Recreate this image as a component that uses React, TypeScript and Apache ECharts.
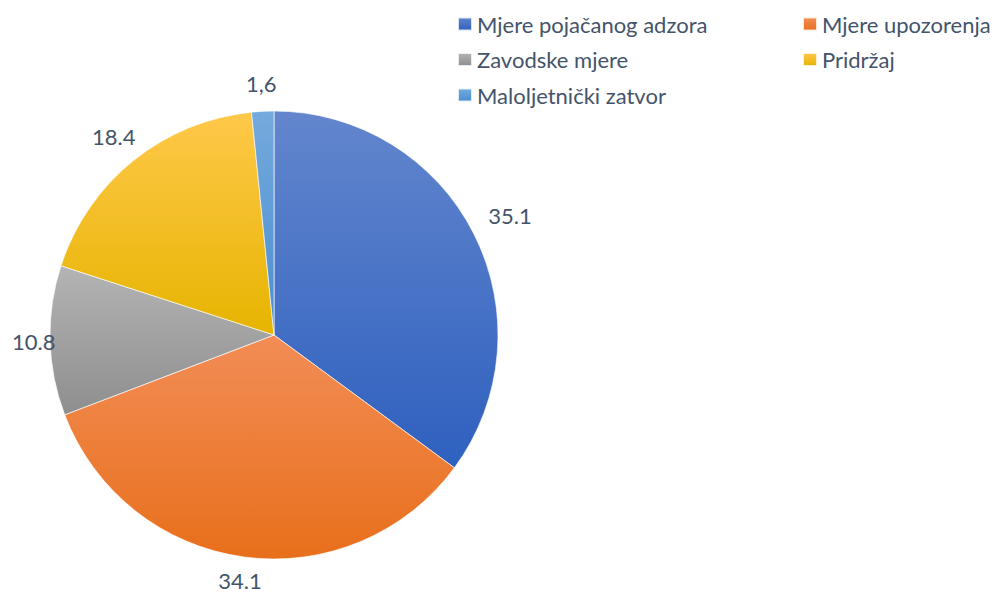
import React, { useEffect, useRef } from "react";
import * as echarts from "echarts";

const categories = [
  "Mjere pojačanog adzora",
  "Mjere upozorenja",
  "Zavodske mjere",
  "Pridržaj",
  "Maloljetnički zatvor",
];
const values = [35.1, 34.1, 10.8, 18.4, 1.6];
const labelTexts = ["35.1", "34.1", "10.8", "18.4", "1,6"];
const legendCol1 = ["Mjere pojačanog adzora", "Zavodske mjere", "Maloljetnički zatvor"];
const legendCol2 = ["Mjere upozorenja", "Pridržaj"];
const gradients = [
  ["#6386CD", "#2E60BF"],
  ["#F28D56", "#E86F1B"],
  ["#B4B4B4", "#8E8E8E"],
  ["#FFC84A", "#E6B400"],
  ["#74AADD", "#4A8ED0"],
];

const FONT = "Lato, 'Open Sans', sans-serif";
const TEXT_COLOR = "#44546A";
const CX = 274;
const CY = 335;
const R = 224;
const GAP = 16;
const W = 997;
const H = 594;

export default function App() {
  const ref = useRef<HTMLDivElement>(null);
  useEffect(() => {
    if (!ref.current) return;
    const chart = echarts.init(ref.current, null, { renderer: "svg" });
    const total = values.reduce((a, b) => a + b, 0);
    const cum: number[] = [];
    let acc = 0;
    values.forEach((v) => {
      cum.push(acc);
      acc += v;
    });
    const data = categories.map((name, i) => ({
      name,
      value: values[i],
      itemStyle: {
        color: new echarts.graphic.LinearGradient(0, 0, 0, 1, [
          { offset: 0, color: gradients[i][0] },
          { offset: 1, color: gradients[i][1] },
        ]),
      },
    }));
    const legendCommon = {
      orient: "vertical" as const,
      top: 12,
      padding: 0,
      itemWidth: 14,
      itemHeight: 13,
      itemGap: 11.5,
      icon: "rect",
      selectedMode: false,
      textStyle: {
        fontFamily: FONT,
        fontSize: 22,
        color: TEXT_COLOR,
        lineHeight: 24,
      },
    };
    chart.setOption({
      animation: false,
      backgroundColor: "#ffffff",
      legend: [
        { ...legendCommon, left: 457, data: legendCol1 },
        { ...legendCommon, left: 802, data: legendCol2 },
      ],
      series: [
        {
          type: "pie",
          center: [CX, CY],
          radius: R,
          startAngle: 90,
          clockwise: true,
          avoidLabelOverlap: false,
          itemStyle: { borderColor: "rgba(255,255,255,0.8)", borderWidth: 0.8 },
          label: {
            show: true,
            position: "outside",
            fontFamily: FONT,
            fontSize: 22,
            lineHeight: 24,
            color: TEXT_COLOR,
            formatter: (p: any) => labelTexts[p.dataIndex],
          },
          labelLine: { show: false },
          emphasis: { disabled: true },
          labelLayout: (p: any) => {
            const i = p.dataIndex;
            const frac = (cum[i] + values[i] / 2) / total;
            const ang = Math.PI / 2 - frac * 2 * Math.PI;
            const c = Math.cos(ang);
            const s = Math.sin(ang);
            const hw = p.labelRect.width / 2;
            const hh = p.labelRect.height / 2;
            const ext = Math.min(
              hw / Math.max(Math.abs(c), 1e-6),
              hh / Math.max(Math.abs(s), 1e-6)
            );
            const d = R + GAP + ext;
            let x = CX + d * c;
            let y = CY - d * s;
            x = Math.max(x, hw + 12);
            y = Math.min(y, H - hh - 2);
            return { x, y, align: "center", verticalAlign: "middle" };
          },
          data,
        },
      ],
    });
    return () => chart.dispose();
  }, []);
  return (
    <div
      ref={ref}
      style={{ position: "fixed", left: 0, top: 0, width: W, height: H }}
    />
  );
}
